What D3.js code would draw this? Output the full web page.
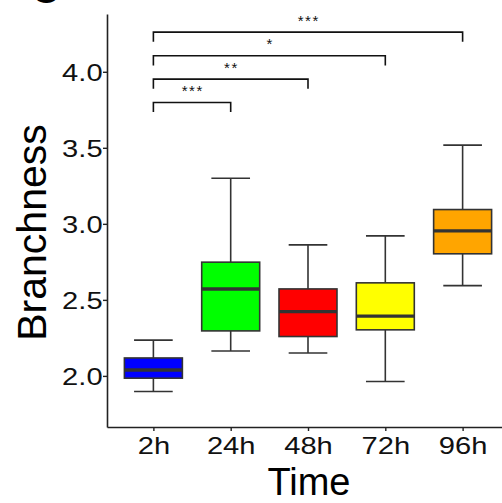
<!DOCTYPE html>
<html>
<head>
<meta charset="utf-8">
<script src="https://cdn.jsdelivr.net/npm/d3@7"></script>
<style>
  html, body { margin: 0; padding: 0; background: #fff; }
  svg { display: block; }
</style>
</head>
<body>
<script>
// ---- data ----
const categories = ["2h", "24h", "48h", "72h", "96h"];
const whiskerLow  = [1.897, 2.164, 2.151, 1.963, 2.594];
const q1          = [1.985, 2.296, 2.259, 2.303, 2.803];
const median      = [2.039, 2.572, 2.423, 2.393, 2.954];
const q3          = [2.118, 2.748, 2.572, 2.612, 3.094];
const whiskerHigh = [2.235, 3.300, 2.862, 2.921, 3.518];
const fillColors  = ["#0000FF", "#00FF00", "#FF0000", "#FFFF00", "#FFA500"];
const yTicks = [2.0, 2.5, 3.0, 3.5, 4.0];
const compFrom  = ["2h", "2h", "2h", "2h"];
const compTo    = ["24h", "48h", "72h", "96h"];
const compLabel = ["***", "**", "*", "***"];
const compLevel = [3.798, 3.952, 4.105, 4.261];
const tipLength = 0.063;

// ---- layout ----
const W = 502, H = 503;
const svg = d3.select("body").append("svg").attr("width", W).attr("height", H);

const axisX0 = 107, axisY0 = 427, axisTop = 14;
const x = d3.scaleLinear().domain([0.4, categories.length + 0.6]).range([axisX0, 509]);
const y = d3.scaleLinear().domain([1.664, 4.38]).range([axisY0, axisTop]);
const xc = c => x(categories.indexOf(c) + 1);
const unit = x(2) - x(1);

const rows = categories.map((c, i) => ({
  c, lo: whiskerLow[i], q1: q1[i], med: median[i], q3: q3[i], hi: whiskerHigh[i], fill: fillColors[i]
}));

const stroke = "#333333";
const g = svg.append("g");

// whiskers and boxes
rows.forEach(d => {
  const cx = xc(d.c);
  g.append("line").attr("x1", cx).attr("x2", cx).attr("y1", y(d.q3)).attr("y2", y(d.hi))
    .attr("stroke", stroke).attr("stroke-width", 1.6);
  g.append("line").attr("x1", cx).attr("x2", cx).attr("y1", y(d.q1)).attr("y2", y(d.lo))
    .attr("stroke", stroke).attr("stroke-width", 1.6);
  [d.lo, d.hi].forEach(v => {
    g.append("line").attr("x1", cx - unit * 0.25).attr("x2", cx + unit * 0.25)
      .attr("y1", y(v)).attr("y2", y(v)).attr("stroke", stroke).attr("stroke-width", 1.6);
  });
  g.append("rect").attr("x", cx - unit * 0.375).attr("width", unit * 0.75)
    .attr("y", y(d.q3)).attr("height", y(d.q1) - y(d.q3))
    .attr("fill", d.fill).attr("stroke", stroke).attr("stroke-width", 1.6);
  g.append("line").attr("x1", cx - unit * 0.375).attr("x2", cx + unit * 0.375)
    .attr("y1", y(d.med)).attr("y2", y(d.med)).attr("stroke", stroke).attr("stroke-width", 3.4);
});

// significance brackets
compLabel.forEach((lab, i) => {
  const x1 = xc(compFrom[i]), x2 = xc(compTo[i]);
  const yl = y(compLevel[i]), yt = y(compLevel[i] - tipLength);
  g.append("path")
    .attr("d", `M${x1},${yt}L${x1},${yl}L${x2},${yl}L${x2},${yt}`)
    .attr("fill", "none").attr("stroke", "#111").attr("stroke-width", 1.6);
  g.append("text").attr("x", (x1 + x2) / 2 + 0.75).attr("y", yl - 6.5)
    .attr("text-anchor", "middle").attr("font-family", "Liberation Sans, Arial, sans-serif")
    .attr("font-size", 15).attr("letter-spacing", "1.5px").attr("fill", "#111").text(lab);
});

// axes
const tickFont = "Liberation Sans, Arial, Helvetica, sans-serif";
const xAxis = svg.append("g").attr("transform", `translate(0,${axisY0})`)
  .call(d3.axisBottom(x).tickValues(categories.map((c, i) => i + 1))
    .tickFormat(v => categories[v - 1]).tickSize(4).tickSizeOuter(0));
xAxis.select(".domain").attr("stroke", "#222").attr("stroke-width", 1.6);
xAxis.selectAll(".tick line").attr("stroke", "#222").attr("stroke-width", 1.4);
xAxis.selectAll(".tick text").attr("y", 27).attr("dy", 0)
  .attr("font-family", tickFont).attr("font-size", 23.5).attr("fill", "#111")
  .attr("transform", "scale(1.24,1)");

const yAxis = svg.append("g").attr("transform", `translate(${axisX0},0)`)
  .call(d3.axisLeft(y).tickValues(yTicks).tickFormat(d3.format(".1f")).tickSize(4).tickSizeOuter(0));
yAxis.select(".domain").attr("stroke", "#222").attr("stroke-width", 1.6);
yAxis.selectAll(".tick line").attr("stroke", "#222").attr("stroke-width", 1.4);
yAxis.selectAll(".tick text").attr("x", -4.4 / 1.24).attr("dy", "0.36em")
  .attr("font-family", tickFont).attr("font-size", 23.5).attr("fill", "#111")
  .attr("transform", "scale(1.24,1)");

// titles
svg.append("text").attr("x", 309).attr("y", 495).attr("text-anchor", "middle")
  .attr("font-family", tickFont).attr("font-size", 38).attr("fill", "#000").text("Time");
svg.append("text").attr("transform", "translate(46,232.5) rotate(-90)").attr("text-anchor", "middle")
  .attr("font-family", tickFont).attr("font-size", 41).attr("fill", "#000").text("Branchness");

// panel letter (cut off at top, as in the reference)
svg.append("text").attr("x", 31).attr("y", 3).attr("font-family", tickFont)
  .attr("font-weight", "bold").attr("font-size", 40).attr("fill", "#000").text("C");
</script>
</body>
</html>
